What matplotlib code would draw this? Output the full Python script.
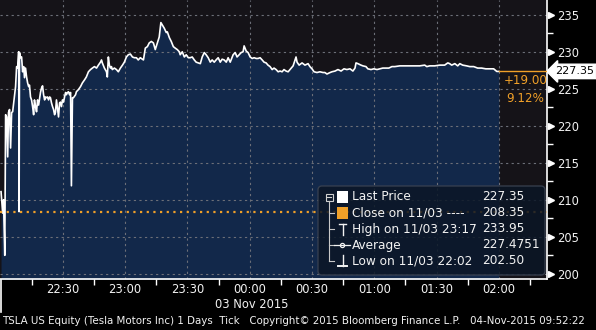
import matplotlib
matplotlib.use('Agg')
import matplotlib.pyplot as plt
import matplotlib.transforms as mtransforms
from matplotlib.patches import FancyBboxPatch, Rectangle
from matplotlib.ticker import FixedLocator, MultipleLocator

### TSLA intraday tick chart, Bloomberg style ###

# minutes after 22:00 on 03 Nov 2015
minutes = [0.2, 1.0, 1.4, 2.0, 2.4, 2.9, 3.4, 3.8, 4.3, 4.8, 5.3, 5.8, 6.3, 7.2, 7.7, 8.2,
           8.7, 8.9, 9.1, 9.6, 10.1, 10.6, 11.1, 11.5, 12.0, 12.5, 13.0, 13.5, 13.9, 14.4,
           14.9, 15.4, 15.9, 16.3, 16.8, 17.3, 17.8, 18.3, 18.8, 19.2, 19.7, 20.2, 20.7,
           21.2, 21.6, 22.1, 22.6, 23.1, 23.6, 24.0, 24.5, 25.0, 25.5, 26.0, 26.4, 26.9,
           27.4, 27.9, 28.4, 28.8, 29.3, 29.8, 30.3, 30.8, 31.3, 31.7, 32.2, 32.7, 33.2,
           33.7, 34.1, 34.6, 35.1, 36.1, 36.5, 37.5, 38.5, 39.4, 40.4, 41.3, 42.3, 43.3,
           44.2, 45.2, 46.2, 47.1, 48.1, 48.6, 49.0, 50.0, 51.0, 51.4, 51.9, 52.4, 52.9,
           53.4, 53.8, 54.8, 55.8, 56.7, 57.7, 58.7, 59.6, 60.6, 61.5, 62.5, 63.5, 64.4,
           65.4, 66.3, 67.3, 68.8, 69.7, 70.7, 71.6, 72.6, 73.6, 74.5, 75.5, 76.4, 76.8,
           77.2, 78.8, 79.8, 80.3, 81.3, 82.2, 83.2, 84.1, 85.1, 86.1, 86.5, 87.5, 88.5,
           89.4, 90.4, 91.3, 92.3, 93.3, 94.2, 95.2, 96.2, 97.1, 98.1, 99.0, 100.0, 101.0,
           101.9, 102.9, 103.8, 104.8, 105.8, 106.7, 107.7, 108.7, 109.6, 110.6, 112.0,
           113.0, 113.9, 114.9, 115.9, 116.8, 117.3, 118.3, 119.2, 120.2, 121.2, 122.1,
           123.1, 124.0, 125.0, 126.0, 126.9, 127.9, 128.8, 129.8, 130.8, 131.7, 132.7,
           133.7, 134.6, 135.6, 136.5, 137.5, 138.5, 139.4, 140.9, 142.3, 142.8, 143.8,
           145.2, 146.6, 148.1, 149.0, 150.0, 151.0, 152.4, 153.8, 155.3, 156.2, 157.2,
           158.7, 159.6, 161.1, 162.5, 164.0, 165.4, 166.8, 168.3, 169.7, 170.7, 171.2,
           172.1, 173.6, 174.5, 176.0, 176.9, 178.4, 179.8, 181.3, 182.7, 184.1, 185.6,
           187.0, 188.5, 189.9, 192.3, 197.1, 201.9, 204.3, 205.3, 206.7, 209.1, 211.5,
           213.9, 215.4, 216.3, 217.3, 218.8, 220.2, 221.2, 222.6, 224.5, 226.0, 227.9,
           229.8, 231.7, 233.7, 235.6, 237.5, 239.0, 240.0]

price = [211.1, 208.2, 210.0, 202.5, 221.5, 221.2, 215.8, 221.8, 222.2, 217.0, 221.8, 221.9,
         223.1, 225.3, 228.0, 227.8, 230.0, 208.4, 229.9, 229.2, 229.3, 227.3, 228.0, 226.5,
         227.8, 226.6, 225.8, 225.3, 225.5, 223.9, 223.5, 222.6, 221.5, 223.5, 222.6, 221.9,
         223.5, 222.8, 223.8, 224.5, 225.1, 225.4, 224.2, 223.5, 223.9, 223.8, 223.9, 223.5,
         223.9, 223.8, 223.1, 222.6, 222.2, 221.5, 221.8, 223.5, 222.4, 221.2, 223.1, 223.2,
         222.6, 223.5, 223.2, 223.9, 224.5, 224.2, 224.5, 224.6, 224.2, 224.5, 211.9, 223.8,
         223.8, 224.2, 224.6, 224.9, 225.3, 225.8, 226.2, 226.6, 227.3, 227.6, 227.8, 228.0,
         227.8, 228.2, 228.6, 228.9, 228.5, 227.8, 227.3, 226.6, 229.3, 228.2, 227.8, 228.0,
         227.6, 227.8, 227.6, 227.3, 227.8, 228.2, 228.6, 229.3, 229.6, 229.7, 229.3, 229.2,
         229.2, 228.9, 229.2, 228.9, 230.5, 230.7, 231.2, 231.4, 231.2, 230.3, 231.2, 232.0,
         233.0, 233.95, 233.2, 232.6, 232.7, 231.9, 231.4, 230.7, 230.5, 230.3, 230.0, 229.6,
         230.0, 229.3, 229.6, 229.2, 229.2, 229.3, 228.9, 228.6, 228.5, 228.4, 229.3, 229.9,
         229.6, 229.2, 228.6, 228.9, 228.6, 228.9, 229.2, 228.6, 229.0, 228.9, 228.6, 229.2,
         228.6, 229.6, 229.9, 229.3, 229.6, 229.9, 230.0, 230.8, 230.1, 229.9, 229.3, 229.1,
         229.2, 229.1, 229.1, 229.2, 228.9, 228.6, 228.5, 228.2, 228.0, 227.6, 227.8, 227.6,
         227.3, 227.4, 227.3, 227.6, 227.4, 227.3, 227.6, 228.1, 229.3, 228.6, 228.2, 228.5,
         228.2, 228.4, 228.0, 227.7, 227.3, 227.2, 227.3, 227.2, 227.2, 227.0, 227.2, 227.3,
         227.4, 227.6, 227.4, 227.7, 227.6, 227.7, 227.4, 227.8, 228.5, 228.4, 228.2, 228.1,
         228.0, 227.7, 227.6, 227.7, 227.6, 227.7, 227.8, 227.8, 227.8, 228.0, 228.0, 228.1,
         228.1, 228.1, 228.2, 228.0, 228.1, 228.1, 228.2, 228.2, 228.5, 228.4, 228.2, 228.4,
         228.1, 228.4, 228.2, 228.1, 228.0, 228.0, 227.8, 227.8, 227.7, 227.7, 227.7, 227.35,
         227.35]

tick_minutes = [30, 60, 90, 120, 150, 180, 210, 240]
tick_labels = ['22:30', '23:00', '23:30', '00:00', '00:30', '01:00', '01:30', '02:00']
y_ticks = [200, 205, 210, 215, 220, 225, 230, 235]

last_price = 227.35
prev_close = 208.35
change_txt = '+19.00'
change_pct = '9.12%'

legend_rows = [('Last Price', '227.35'),
               ('Close on 11/03 ----', '208.35'),
               ('High on 11/03 23:17', '233.95'),
               ('Average', '227.4751'),
               ('Low on 11/03 22:02', '202.50')]

footer = ('TSLA US Equity (Tesla Motors Inc) 1 Days  Tick   '
          'Copyright\u00a9 2015 Bloomberg Finance L.P.   04-Nov-2015 09:52:22')

ORANGE = '#f0a028'
TXT = '#f2f2f2'
W, H = 596, 330

plt.rcParams['font.family'] = 'DejaVu Sans'

fig = plt.figure(figsize=(W / 100, H / 100), dpi=100, facecolor='black')
ax = fig.add_axes([0, 51 / H, 547 / W, 279 / H])
ax.set_facecolor('#151318')

ax.fill_between(minutes, price, 190, color='#12284a', lw=0, zorder=1)
ax.plot(minutes, price, color='white', lw=1.2, zorder=3)

ax.set_xlim(-0.3, 263.2)
ax.set_ylim(199.3, 237.0)

# previous close (dotted) and last price line
ax.axhline(prev_close, color=ORANGE, lw=1.6, ls=(0, (1, 2)), zorder=4)
ax.plot([minutes[-1], 263.2], [last_price, last_price], color=ORANGE, lw=1, zorder=4)

ax.xaxis.set_major_locator(FixedLocator(tick_minutes))
ax.set_xticklabels(tick_labels)
ax.xaxis.set_minor_locator(FixedLocator([m - 15 for m in tick_minutes] + [255]))
ax.yaxis.tick_right()
ax.set_yticks(y_ticks)
ax.yaxis.set_minor_locator(MultipleLocator(2.5))

ax.tick_params(axis='both', which='major', length=0, colors=TXT, labelsize=8.3)
ax.tick_params(axis='x', which='major', pad=3)
ax.tick_params(axis='y', which='major', pad=7)
ax.tick_params(axis='both', which='minor', length=4, width=1, color='white')

ax.grid(True, which='major', color='#6c6f78', lw=0.8, ls=(0, (2, 3)), zorder=2)

for side in ['top', 'left']:
    ax.spines[side].set_visible(False)
for side in ['right', 'bottom']:
    ax.spines[side].set_color('white')
    ax.spines[side].set_linewidth(1.2)

# arrow markers at major y ticks
blend = mtransforms.blended_transform_factory(ax.transAxes, ax.transData)
arrow_tr = mtransforms.offset_copy(blend, fig=fig, x=4, units='dots')
ax.plot([1.0] * len(y_ticks), y_ticks, ls='none', marker='>', ms=5, color='white',
        clip_on=False, transform=arrow_tr, zorder=6)

# last price tag
ax.annotate(f'{last_price:.2f}', xy=(1.0, last_price), xycoords=blend,
            xytext=(5.5, 0), textcoords='offset points', ha='left', va='center',
            fontsize=8, color='black', annotation_clip=False,
            bbox=dict(boxstyle='larrow,pad=0.2', fc='white', ec='white'))

# overlay in pixel coordinates for legend box and captions
ov = fig.add_axes([0, 0, 1, 1], facecolor='none')
ov.set_xlim(0, W)
ov.set_ylim(H, 0)
ov.axis('off')

ov.text(504, 81, change_txt, color=ORANGE, fontsize=8.6, ha='left', va='center')
ov.text(506, 98, change_pct, color=ORANGE, fontsize=8.6, ha='left', va='center')

ov.add_patch(FancyBboxPatch((318, 186), 227, 89, boxstyle='round,pad=0,rounding_size=4',
                            fc='#0b1626', ec='#3b4352', lw=1, alpha=0.85))

row_y = [197, 213, 229, 245, 261]
# tree lines
ov.plot([329, 329], [201, row_y[-1]], color='#c8c8c8', lw=0.8)
for yy in row_y[1:]:
    ov.plot([329, 334], [yy, yy], color='#c8c8c8', lw=0.8)
ov.add_patch(Rectangle((325.5, 193.5), 7, 7, fc='none', ec='#d0d0d0', lw=0.8))
ov.plot([327, 331], [197, 197], color='#d0d0d0', lw=0.8)

ov.add_patch(Rectangle((337, 191), 11, 12, fc='white', ec='none'))
ov.add_patch(Rectangle((337, 207), 11, 12, fc=ORANGE, ec='none'))
ov.plot([339, 346], [224, 224], color=TXT, lw=1)
ov.plot([342.5, 342.5], [224, 235], color=TXT, lw=1)
ov.plot([334, 350], [245, 245], color=TXT, lw=0.9)
ov.plot([342], [245], marker='o', ms=3, mfc='none', mec=TXT, mew=0.9)
ov.plot([342.5, 342.5], [255, 266], color=TXT, lw=1)
ov.plot([338, 347], [266, 266], color=TXT, lw=1.4)

for (lab, val), yy in zip(legend_rows, row_y):
    ov.text(352, yy, lab, color=TXT, fontsize=8.7, ha='left', va='center')
    ov.text(482, yy, val, color=TXT, fontsize=8.7, ha='left', va='center')

# date and footer
ov.plot([0.6, 0.6], [280, 312], color='white', lw=1.2)
ov.text(252, 305, '03 Nov 2015', color=TXT, fontsize=8.3, ha='center', va='center')
ov.text(2, 321, footer, color=TXT, fontsize=7.35, ha='left', va='center')

fig.savefig('out.png', dpi=100, facecolor='black')
